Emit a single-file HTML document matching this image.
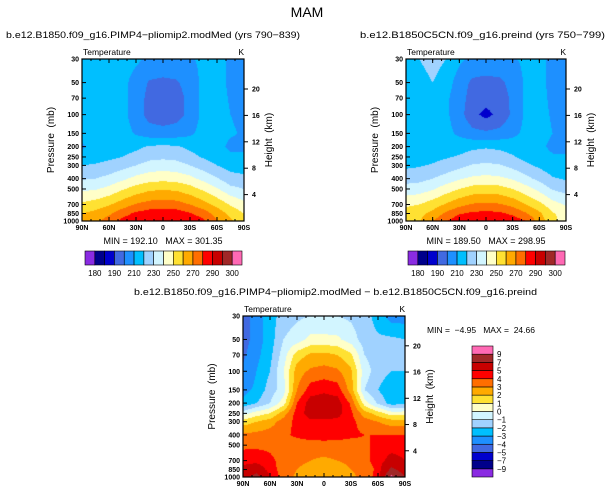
<!DOCTYPE html>
<html><head><meta charset="utf-8">
<style>
body{margin:0;background:#fff;width:615px;height:496px;overflow:hidden;position:relative;font-family:"Liberation Sans",sans-serif}
canvas{position:absolute}
svg{position:absolute;left:0;top:0}
text{white-space:pre}
</style></head>
<body>
<div style="position:absolute;left:0;top:0;width:615px;height:496px">
<canvas id="c1"></canvas>
<canvas id="c2"></canvas>
<canvas id="c3"></canvas>
<svg id="ov" width="615" height="496"></svg>
</div>
<script>
const lats=[90,75,60,45,30,15,0,-15,-30,-45,-60,-75,-90];
const levels=[30,50,70,100,150,200,250,300,400,500,700,850,1000];
const tempLevels=[180,185,190,200,210,220,230,240,250,260,270,280,290,295,300];
const tempLabels=["180","190","210","230","250","270","290","300"];
const diffLevels=[-9,-7,-5,-4,-3,-2,-1,0,1,2,3,4,5,7,9];
const diffLabels=["-9","-7","-5","-4","-3","-2","-1","0","1","2","3","4","5","7","9"];
const latLabels=["90N","60N","30N","0","30S","60S","90S"];
const heightTicks=[4,8,12,16,20];
const colors=["#8a2be2","#00008b","#0000cd","#4169e1","#1e90ff","#00bfff","#a0d2ff","#d2f5ff","#ffffc8","#ffe132","#ffaa00","#ff6e00","#ff0000","#c80000","#a02828","#ff69b4"];
const plioT=[
[215,215,215,214,212,208,207,207,209,212,214,208,207],
[215,215,215,213,206,199,198,199,204,213,214,208,206],
[215,215,215,213,205,197,195,196,203,213,214,209,207],
[215,215,215,213,205,196,194,196,203,213,214,210,208],
[215,215,215,214,209,205,204,205,208,214,214,211,209],
[208,214,215,216,218,221,222,221,218,215,213,208,208],
[215,216,218,220,223,227,228,227,223,219,215,212,212],
[220,221,223,226,230,234,235,234,230,225,220,216,216],
[229,230,233,238,243,246,247,246,243,237,231,224,222],
[238,239,243,249,254,258,259,258,254,248,241,233,230],
[252,255,259,265,271,274,275,274,270,264,257,249,243],
[260,263,268,276,282,285,286,285,281,275,266,257,250],
[262,267,275,283,288,290,291,290,288,282,271,262,252]];
const preindT=[
[215,220,224,220,212,208,207,207,209,212,213,207,206],
[215,216,220,215,205,198,197,198,203,212,213,207,205],
[215,215,215,212,204,196,194,195,202,212,213,208,206],
[215,215,215,212,204,193,187,193,202,212,213,209,207],
[215,215,215,213,208,203,202,203,207,213,213,210,208],
[210,213,214,215,216,218,219,218,216,214,212,208,208],
[214,215,217,219,221,224,225,224,221,217,214,211,211],
[218,219,221,224,227,231,232,231,227,222,218,214,214],
[226,227,230,234,239,242,243,242,239,233,227,221,219],
[234,235,239,245,250,254,255,254,250,244,237,229,226],
[248,250,255,261,267,271,272,271,267,260,253,244,239],
[255,257,263,272,279,282,283,282,278,271,262,251,246],
[257,259,270,279,287,289,290,289,286,280,266,253,245]];
const diffT=[
[-4.5,-3.5,-2.5,-1.5,-1.2,-1,-1,-1,-1.2,-1.5,-2.5,-3.5,-3.5],
[-4.5,-3.5,-2.5,-1,-0.5,0.3,0.3,0.2,-0.5,-1.5,-1.8,-1.8,-2],
[-4.2,-3.3,-2.3,-0.5,1.5,2.2,2.3,2,1.2,-1,-1.5,-1.5,-1.6],
[-3.8,-3,-2,0,2.5,3.2,3.4,3.2,2.2,-0.5,-1.5,-2,-2],
[-3.3,-2.8,-1.5,-0.5,3,4.5,4.8,4.5,2.5,-1,-2,-2.8,-2.5],
[-2.8,-2,-1,0.5,4,5.5,5.6,5.5,3.8,0.5,-1.2,-2.5,-2.2],
[-0.5,0.5,1,2.5,4.5,5.5,5.5,5.4,4.2,2.5,1.5,0.5,0.5],
[1.5,2,2.5,3.5,4.3,4.8,4.8,4.7,4.3,3.5,3,2.5,2.5],
[3.2,3.3,3.5,3.8,4.2,4.5,4.5,4.4,4.2,4,4,4,4],
[3.8,3.8,3.8,3.6,3.5,3.5,3.6,3.6,3.6,3.8,4.3,4.5,4.5],
[4.5,4.6,4.2,3.7,3.4,3,2.8,3,3.3,3.7,4.5,5.5,5],
[5.5,6,4.5,3.5,3,2.4,2.3,2.4,3,3.3,4.3,7.5,6],
[6,8,5,3.5,2.8,2.2,2,2.2,2.8,3.3,4.5,9.5,7]];

const NS="http://www.w3.org/2000/svg";
const ov=document.getElementById('ov');
function el(tag,attrs,parent,name,txt){const e=document.createElementNS(NS,tag);for(const k in attrs)e.setAttribute(k,attrs[k]);


if(txt!==undefined)e.textContent=txt;(parent||ov).appendChild(e);return e;}
function txt(x,y,s,size,anchor,name,extra){const a={x:x,y:y,'font-size':size,'text-anchor':anchor||'middle',fill:'#000','font-family':'Liberation Sans, sans-serif'};if(extra)Object.assign(a,extra);return el('text',a,ov,name,s);}
function hex(c){return [parseInt(c.slice(1,3),16),parseInt(c.slice(3,5),16),parseInt(c.slice(5,7),16)];}
const rgb=colors.map(hex);
function colorIdx(v,lv){let i=0;while(i<lv.length&&v>=lv[i])i++;return i;}

function panel(id,x0,y0,w,h,data,lv,prefix){
  const L0=Math.log(30),L1=Math.log(1000);
  const yOf=p=>y0+(Math.log(p)-L0)/(L1-L0)*h;
  const cv=document.getElementById(id);cv.width=w;cv.height=h;cv.style.left=x0+'px';cv.style.top=y0+'px';
  const ctx=cv.getContext('2d');const img=ctx.createImageData(w,h);
  const rowY=levels.map(p=>yOf(p)-y0);
  for(let py=0;py<h;py++){
    const yy=py+0.5;let r=0;while(r<levels.length-2&&yy>rowY[r+1])r++;
    let ty=(yy-rowY[r])/(rowY[r+1]-rowY[r]);ty=Math.max(0,Math.min(1,ty));
    for(let px=0;px<w;px++){
      const fx=(px+0.5)/w*(lats.length-1);let c=Math.min(lats.length-2,Math.floor(fx));const tx=fx-c;
      const v=(data[r][c]*(1-tx)+data[r][c+1]*tx)*(1-ty)+(data[r+1][c]*(1-tx)+data[r+1][c+1]*tx)*ty;
      const col=rgb[colorIdx(v,lv)];const k=(py*w+px)*4;
      img.data[k]=col[0];img.data[k+1]=col[1];img.data[k+2]=col[2];img.data[k+3]=255;}
  }
  ctx.putImageData(img,0,0);
  el('rect',{x:x0,y:y0,width:w,height:h,fill:'none',stroke:'#000','stroke-width':1.2},ov,prefix+'-frame');
  levels.forEach(p=>{const y=yOf(p);
    el('line',{x1:x0,x2:x0+4,y1:y,y2:y,stroke:'#000','stroke-width':1},ov,prefix+'-pressure-tick');
    txt(x0-3,y+2.5,String(p),7,'end',prefix+'-pressure-label',{'font-weight':'bold'});});
  latLabels.forEach((s,i)=>{const x=x0+i*w/6;
    el('line',{x1:x,x2:x,y1:y0+h,y2:y0+h-4,stroke:'#000'},ov,prefix+'-lat-tick');
    el('line',{x1:x,x2:x,y1:y0,y2:y0+4,stroke:'#000'},ov,prefix+'-lat-tick-top');
    txt(x,y0+h+9,s,7,'middle',prefix+'-lat-label',{'font-weight':'bold'});});
  for(let i=0;i<=18;i++){const x=x0+i*w/18;
    el('line',{x1:x,x2:x,y1:y0+h,y2:y0+h-2,stroke:'#000'},ov,prefix+'-minor-tick');
    el('line',{x1:x,x2:x,y1:y0,y2:y0+2,stroke:'#000'},ov,prefix+'-minor-tick-top');}
  heightTicks.forEach(z=>{const y=yOf(1000*Math.exp(-z/7));
    el('line',{x1:x0+w,x2:x0+w+4,y1:y,y2:y,stroke:'#000'},ov,prefix+'-height-tick');
    txt(x0+w+8,y+2.5,String(z),7,'start',prefix+'-height-label',{'font-weight':'bold'});});
  txt(x0-28,y0+h/2,'Pressure  (mb)',10,'middle',prefix+'-y-axis-title',{transform:`rotate(-90 ${x0-28} ${y0+h/2})`});
  txt(x0+w+28,y0+h/2,'Height  (km)',10,'middle',prefix+'-right-axis-title',{transform:`rotate(-90 ${x0+w+28} ${y0+h/2})`});
  txt(x0+1,y0-4,'Temperature',8.5,'start',prefix+'-variable-label');
  txt(x0+w,y0-4,'K',8.5,'end',prefix+'-units-label');
}
txt(307,17,'MAM',14,'middle','main-title');
panel('c1',82,59,162,162,plioT,tempLevels,'plio');
panel('c2',406,59,160,162,preindT,tempLevels,'preind');
panel('c3',243,316,162,161,diffT,diffLevels,'diff');
txt(6,38,'b.e12.B1850.f09_g16.PIMP4\u2212pliomip2.modMed (yrs 790\u2212839)',9.5,'start','plio-subtitle',{textLength:294,lengthAdjust:'spacingAndGlyphs'});
txt(360,38,'b.e12.B1850C5CN.f09_g16.preind (yrs 750\u2212799)',9.5,'start','preind-subtitle',{textLength:245,lengthAdjust:'spacingAndGlyphs'});
txt(134,295,'b.e12.B1850.f09_g16.PIMP4\u2212pliomip2.modMed \u2212 b.e12.B1850C5CN.f09_g16.preind',9.5,'start','diff-subtitle',{textLength:403,lengthAdjust:'spacingAndGlyphs'});
txt(163,244,'MIN = 192.10   MAX = 301.35',9,'middle','plio-minmax');
txt(486,244,'MIN = 189.50   MAX = 298.95',9,'middle','preind-minmax');
txt(427,333,'MIN =  \u22124.95   MAX =  24.66',8.5,'start','diff-minmax');

function hbar(x0,y0,w,h,prefix){const bw=w/16;
  colors.forEach((c,i)=>{el('rect',{x:x0+i*bw,y:y0,width:bw,height:h,fill:c,stroke:'#000','stroke-width':0.6},ov,prefix+'-colorbar-box');});
  tempLabels.forEach((s,i)=>{txt(x0+(1+2*i)*bw,y0+h+11,s,8,'middle',prefix+'-colorbar-label');});}
hbar(85,251,157,14,'plio');
hbar(408,251,157,14,'preind');
(function(){const x0=472,y0=346,w=21,h=131,bh=h/16;
  colors.forEach((c,i)=>{el('rect',{x:x0,y:y0+h-(i+1)*bh,width:w,height:bh,fill:c,stroke:'#000','stroke-width':0.6},ov,'diff-colorbar-box');});
  diffLabels.forEach((s,i)=>{txt(x0+w+4,y0+h-(i+1)*bh+3,s.replace('-','\u2212'),8,'start','diff-colorbar-label');});})();
</script>
</body></html>
